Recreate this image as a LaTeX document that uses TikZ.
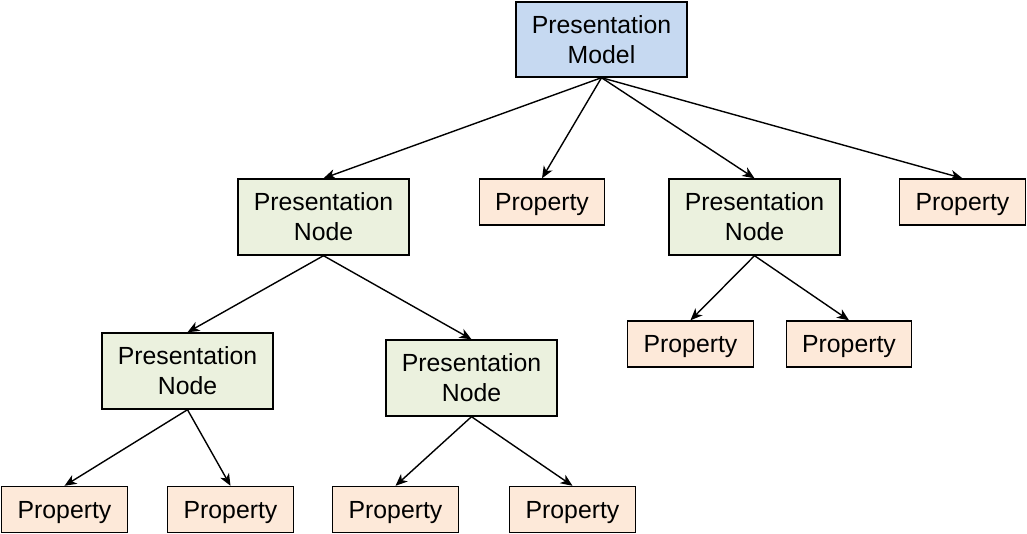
\documentclass[tikz,border=0pt]{standalone}
\usepackage{fontspec}
\setmainfont{Liberation Sans}
\usetikzlibrary{arrows.meta}
\definecolor{pmblue}{HTML}{C6D9F1}
\definecolor{pngreen}{HTML}{EBF1DE}
\definecolor{proppeach}{HTML}{FDE9D9}
\begin{document}
\begin{tikzpicture}[x=1pt,y=-1pt,
  box/.style={draw=black,line width=1.4pt,inner sep=0pt,align=center,font=\fontsize{24.8}{30}\selectfont},
  pmbox/.style={box,fill=pmblue,minimum width=171pt,minimum height=75pt},
  pnbox/.style={box,fill=pngreen,minimum width=171pt,minimum height=76pt},
  propbox/.style={box,fill=proppeach,minimum width=125.5pt,minimum height=46pt,text depth=0pt},
  conn/.style={line width=1.4pt,-{Stealth[length=12pt,width=10pt,inset=3.5pt]}}]
\useasboundingbox (0,0) rectangle (1027,534);
\node[pmbox] (pm) at (601.5,39.5) {Presentation\\Model};
\node[pnbox] (pn1) at (323.5,217) {Presentation\\Node};
\node[propbox] (p1) at (542,202) {Property};
\node[pnbox] (pn2) at (754.5,217) {Presentation\\Node};
\node[propbox] (p2) at (962.5,202) {Property};
\node[pnbox] (pn3) at (187.5,371) {Presentation\\Node};
\node[pnbox] (pn4) at (471.5,378) {Presentation\\Node};
\node[propbox] (p3) at (690.5,344) {Property};
\node[propbox] (p4) at (849,344) {Property};
\node[propbox] (p5) at (64.5,509.5) {Property};
\node[propbox] (p6) at (230.5,509.5) {Property};
\node[propbox] (p7) at (395.5,509.5) {Property};
\node[propbox] (p8) at (572.5,509.5) {Property};
\foreach \a/\b in {pm/pn1,pm/p1,pm/pn2,pm/p2,pn1/pn3,pn1/pn4,pn2/p3,pn2/p4,pn3/p5,pn3/p6,pn4/p7,pn4/p8}
  \draw[conn] (\a.south) -- (\b.north);
\end{tikzpicture}
\end{document}
